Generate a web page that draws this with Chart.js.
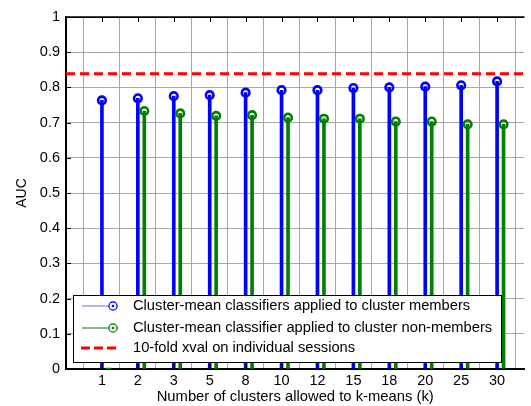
<!DOCTYPE html>
<html>
<head>
<meta charset="utf-8">
<script src="https://cdn.jsdelivr.net/npm/chart.js@4/dist/chart.umd.min.js"></script>
<style>
html,body{margin:0;padding:0;background:#fff;overflow:hidden;}
canvas{display:block;}
</style>
</head>
<body>
<canvas id="c" width="531" height="406"></canvas>
<script>
// ---- data ----
const kLabels = ['1','2','3','5','8','10','12','15','18','20','25','30'];
const memberAUC = [0.763,0.769,0.775,0.778,0.785,0.792,0.792,0.798,0.800,0.802,0.806,0.817];
const nonMemberAUC = [0.0,0.733,0.726,0.719,0.721,0.714,0.711,0.711,0.703,0.703,0.695,0.695];
const xvalAUC = 0.839;
const yTickValues = [0,0.1,0.2,0.3,0.4,0.5,0.6,0.7,0.8,0.9,1];
const seriesNames = [
  'Cluster-mean classifiers applied to cluster members',
  'Cluster-mean classifier applied to cluster non-members',
  '10-fold xval on individual sessions'
];
const xAxisTitle = 'Number of clusters allowed to k-means (k)';
const yAxisTitle = 'AUC';

const BLUE = '#0000ff', GREEN = '#008000', RED = '#ff0000';
const GREEN_OFFSET = 0.18;
const X_MAX = 12.76;
const FONT = 'Liberation Sans, Arial, Helvetica, sans-serif';

const bluePts = memberAUC.map((v,i)=>({x:i+1, y:v}));
const greenPts = nonMemberAUC.map((v,i)=>({x:i+1+GREEN_OFFSET, y:v}));
const redPts = [{x:0,y:xvalAUC},{x:X_MAX,y:xvalAUC}];

const frameTicks = {
  id:'frameTicks',
  afterDatasetsDraw(chart){
    const {ctx, chartArea:a, scales:{x,y}} = chart;
    ctx.save();
    ctx.strokeStyle = '#000';
    ctx.lineWidth = 1.5;
    ctx.beginPath();
    ctx.moveTo(a.left, a.top); ctx.lineTo(a.right, a.top);
    ctx.stroke();
    ctx.lineWidth = 1;
    ctx.beginPath();
    for (let i=1;i<=kLabels.length;i++){
      const px = Math.round(x.getPixelForValue(i))+0.5;
      ctx.moveTo(px, a.top); ctx.lineTo(px, a.top+5);
      ctx.moveTo(px, a.bottom); ctx.lineTo(px, a.bottom-5);
    }
    yTickValues.forEach(v=>{
      const py = Math.round(y.getPixelForValue(v))+0.5;
      ctx.moveTo(a.left, py); ctx.lineTo(a.left+5, py);
    });
    ctx.stroke();
    ctx.restore();
  }
};

const boxLegend = {
  id:'boxLegend',
  afterDatasetsDraw(chart){
    const ctx = chart.ctx;
    const bx = 73, by = 295, bw = 428, bh = 67;
    ctx.save();
    ctx.fillStyle = '#fff';
    ctx.fillRect(bx, by, bw, bh);
    ctx.strokeStyle = '#000';
    ctx.lineWidth = 1;
    ctx.strokeRect(bx+0.5, by+0.5, bw, bh);
    const rows = [306, 328, 348];
    const cols = [BLUE, GREEN, RED];
    const x0 = 82, x1 = 118, mx = 113;
    rows.forEach((ry, i)=>{
      ctx.save();
      if (i < 2){
        ctx.strokeStyle = i===0 ? 'rgba(60,60,255,0.75)' : GREEN;
        ctx.lineWidth = 1.2;
        ctx.beginPath(); ctx.moveTo(x0, ry); ctx.lineTo(x1, ry); ctx.stroke();
        ctx.strokeStyle = cols[i];
        ctx.lineWidth = 1.3;
        ctx.beginPath(); ctx.arc(mx, ry, 4, 0, Math.PI*2); ctx.stroke();
        ctx.fillStyle = '#fff';
        ctx.beginPath(); ctx.arc(mx, ry, 3.3, 0, Math.PI*2); ctx.fill();
        ctx.fillStyle = cols[i];
        ctx.beginPath(); ctx.arc(mx, ry, 1.3, 0, Math.PI*2); ctx.fill();
      } else {
        ctx.strokeStyle = RED;
        ctx.lineWidth = 3;
        ctx.setLineDash([9,4]);
        ctx.beginPath(); ctx.moveTo(x0-1, ry); ctx.lineTo(x1+2, ry); ctx.stroke();
      }
      ctx.restore();
      ctx.fillStyle = '#000';
      ctx.font = '14.7px ' + FONT;
      ctx.textBaseline = 'middle';
      ctx.textAlign = 'left';
      ctx.fillText(seriesNames[i], 133, ry);
    });
    ctx.restore();
  }
};

new Chart(document.getElementById('c'), {
  type: 'bar',
  data: {
    datasets: [
      {type:'line', label:seriesNames[2], data:redPts, borderColor:RED, borderWidth:3,
       borderDash:[9,5], pointRadius:0, fill:false, order:0},
      {type:'line', label:seriesNames[0]+' marker', data:bluePts, showLine:false,
       pointStyle:'circle', pointRadius:3.8, pointBorderWidth:2.6, pointBorderColor:BLUE,
       pointBackgroundColor:'rgba(255,255,255,0)', order:1},
      {type:'line', label:seriesNames[1]+' marker', data:greenPts, showLine:false,
       pointStyle:(c)=> (c.raw && c.raw.y===0) ? 'line' : 'circle',
       pointRadius:(c)=> (c.raw && c.raw.y===0) ? 3 : 3.8,
       pointBorderWidth:2.6, pointBorderColor:GREEN,
       pointBackgroundColor:'rgba(255,255,255,0)', order:1},
      {type:'bar', label:seriesNames[0], data:bluePts, backgroundColor:BLUE,
       barThickness:3, grouped:false, order:2},
      {type:'bar', label:seriesNames[1], data:greenPts, backgroundColor:GREEN,
       barThickness:3, grouped:false, order:2}
    ]
  },
  options: {
    responsive:false,
    devicePixelRatio:1,
    animation:false,
    layout:{padding:{top:17,right:0,left:0,bottom:0}},
    plugins:{legend:{display:false}, tooltip:{enabled:false}},
    scales:{
      x:{
        type:'linear', min:0, max:X_MAX, offset:false,
        afterFit(s){ s.height = 37; },
        afterBuildTicks(s){ s.ticks = kLabels.map((_,i)=>({value:i+1})); },
        ticks:{ callback:(v)=>kLabels[v-1] ?? '', color:'#000', padding:3,
                font:{family:FONT, size:14.5}, maxRotation:0, autoSkip:false },
        grid:{ color:'#a8a8a8', lineWidth:1, drawTicks:false },
        border:{ color:'#000', width:2 },
        title:{ display:true, text:xAxisTitle, color:'#000',
                font:{family:FONT, size:14.8}, padding:{top:0,bottom:0} }
      },
      y:{
        min:0, max:1,
        afterFit(s){ s.width = 66; },
        afterBuildTicks(s){ s.ticks = yTickValues.map(v=>({value:v})); },
        ticks:{ callback:(v)=>String(Math.round(v*10)/10), color:'#000', padding:6,
                font:{family:FONT, size:14.5} },
        grid:{ color:(c)=> (c.tick && c.tick.value===1) ? '#000' : '#a8a8a8', lineWidth:1, drawTicks:false },
        border:{ color:'#000', width:2 },
        title:{ display:true, text:yAxisTitle, color:'#000',
                font:{family:FONT, size:14}, padding:{top:14,bottom:0} }
      }
    }
  },
  plugins:[frameTicks, boxLegend]
});
</script>
</body>
</html>
